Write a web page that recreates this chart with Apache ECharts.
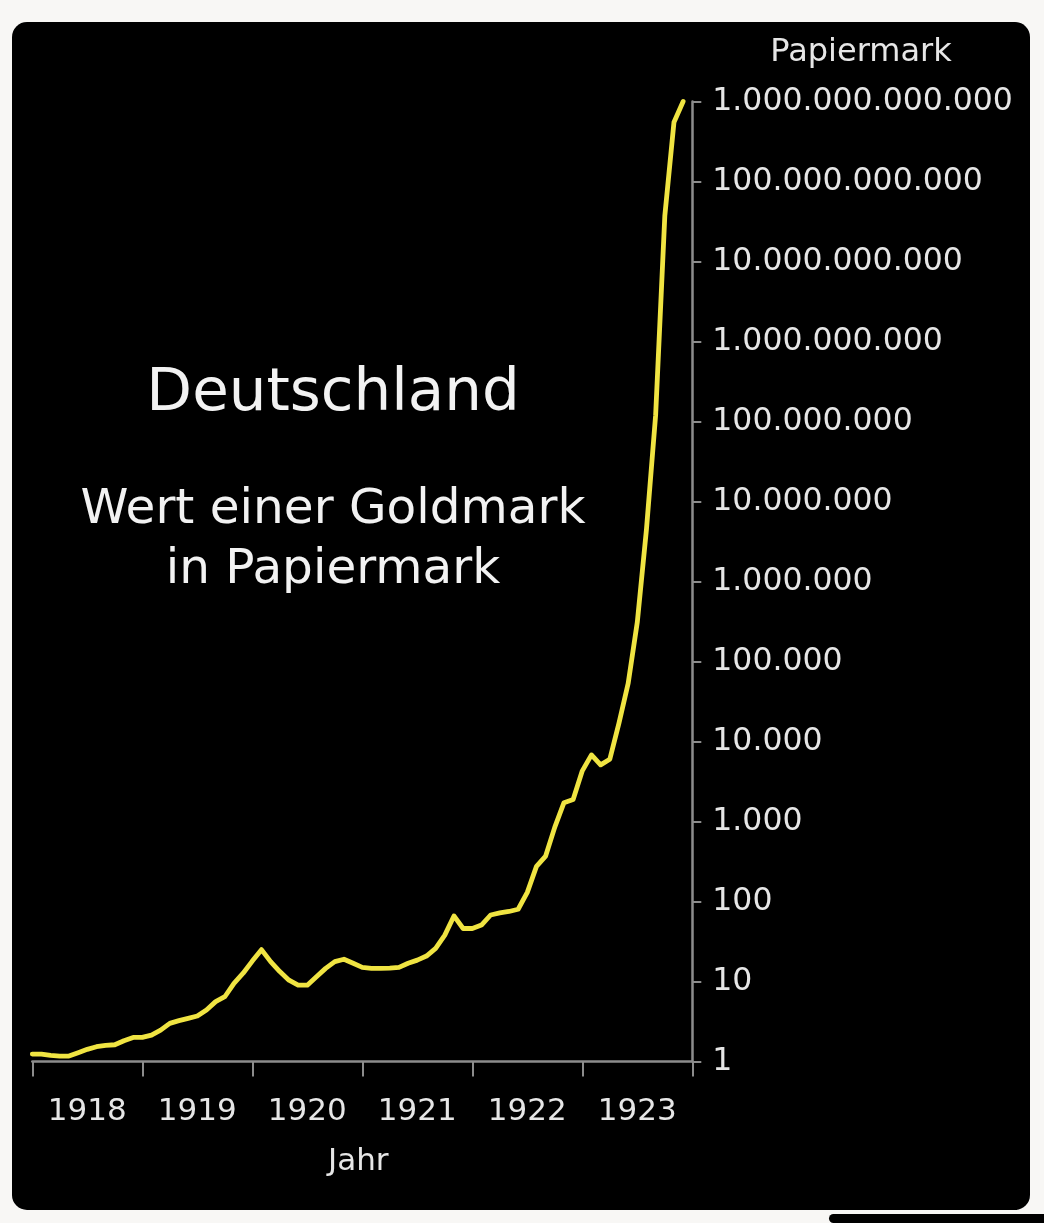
<!DOCTYPE html>
<html>
<head>
<meta charset="utf-8">
<script src="https://cdn.jsdelivr.net/npm/echarts@6/dist/echarts.min.js"></script>
<style>
  html, body { margin: 0; padding: 0; background: #f8f7f5; width: 1044px; height: 1223px; overflow: hidden; }
  #main { position: absolute; left: 12px; top: 22px; width: 1018px; height: 1188px; background: #000; border-radius: 15px; overflow: hidden; }
  #bar { position: absolute; left: 829px; top: 1214px; width: 215px; height: 9px; background: #000; border-radius: 5px 0 0 5px; }
</style>
</head>
<body>
<div id="main"></div>
<div id="bar"></div>
<script>
// Jahre auf der x-Achse
const jahre = ["1918", "1919", "1920", "1921", "1922", "1923"];

// Beschriftung der y-Achse, eine pro Zehnerpotenz
const papiermarkLabels = [
  "1", "10", "100", "1.000", "10.000", "100.000", "1.000.000",
  "10.000.000", "100.000.000", "1.000.000.000", "10.000.000.000",
  "100.000.000.000", "1.000.000.000.000"
];

// Wert einer Goldmark in Papiermark, monatlich (Jan..Dez)
const werte1918 = [1.24, 1.24, 1.19, 1.17, 1.17, 1.29, 1.42, 1.53, 1.59, 1.62, 1.82, 2.0];
const werte1919 = [2.0, 2.14, 2.47, 3.0, 3.24, 3.46, 3.7, 4.4, 5.6, 6.45, 9.5, 12.7];
const werte1920 = [18, 25, 17.7, 13.3, 10.4, 9.0, 9.0, 11.5, 14.6, 17.7, 19, 16.9];
const werte1921 = [15.0, 14.6, 14.6, 14.7, 15.0, 16.9, 18.5, 20.8, 26, 38, 66, 46];
const werte1922 = [46, 50.8, 67.8, 72, 75, 80, 130, 275, 370, 850, 1720, 1880];
const werte1923 = [4300, 6800, 5100, 6000, 17000, 53000, 310000, 4.5e6, 1.2e8, 3.7e10, 5.5e11, 1e12];

const werteProJahr = [werte1918, werte1919, werte1920, werte1921, werte1922, werte1923];

const daten = [];
werteProJahr.forEach(function (liste, j) {
  liste.forEach(function (v, m) {
    daten.push([Number(jahre[j]) + m / 12, v]);
  });
});

const schrift = "DejaVu Sans";
const grau = "#8c8c8c";
const textFarbe = "#e6e6e6";

const chart = echarts.init(document.getElementById("main"));

const option = {
  backgroundColor: "transparent",
  animation: false,
  textStyle: { fontFamily: schrift },
  grid: { left: 20.3, top: 79.5, width: 660, height: 960 },
  xAxis: [
    {
      type: "value",
      min: 1918,
      max: 1924,
      interval: 1,
      position: "bottom",
      axisLine: { show: true, lineStyle: { color: grau, width: 2.5 } },
      axisTick: { show: true, length: 15, lineStyle: { color: grau, width: 2 } },
      axisLabel: { show: false },
      splitLine: { show: false }
    },
    {
      type: "category",
      data: jahre,
      boundaryGap: true,
      position: "bottom",
      axisLine: { show: false },
      axisTick: { show: false },
      splitLine: { show: false },
      axisLabel: { color: textFarbe, fontSize: 31, fontFamily: schrift, margin: 35 },
      name: "Jahr",
      nameLocation: "middle",
      nameGap: 85,
      nameTextStyle: { color: textFarbe, fontSize: 31, fontFamily: schrift, padding: [0, 8, 0, 0] }
    }
  ],
  yAxis: [
    {
      // logarithmische Skala für die Kurve
      type: "log",
      logBase: 10,
      min: 1,
      max: 1e12,
      position: "right",
      axisLine: { show: false },
      axisTick: { show: false },
      axisLabel: { show: false },
      splitLine: { show: false },
      minorTick: { show: false }
    },
    {
      // Zehnerpotenzen als Ticks (ECharts-Logachse setzt bei 12 Dekaden nur jede 10.)
      type: "value",
      min: 0,
      max: 12,
      interval: 1,
      position: "right",
      axisLine: { show: true, lineStyle: { color: grau, width: 2.5 } },
      axisTick: { show: true, length: 9, lineStyle: { color: grau, width: 2 } },
      splitLine: { show: false },
      axisLabel: {
        color: textFarbe,
        fontSize: 31.5,
        fontFamily: schrift,
        margin: 20,
        formatter: function (v) { return papiermarkLabels[Math.round(v)]; }
      },
      name: "Papiermark",
      nameLocation: "end",
      nameGap: 33,
      nameTextStyle: {
        color: textFarbe,
        fontSize: 32,
        fontFamily: schrift,
        align: "left",
        padding: [0, 0, 0, 78]
      }
    }
  ],
  graphic: [
    {
      type: "text",
      x: 321,
      y: 373,
      style: {
        text: "Deutschland",
        fill: "#f2f2f2",
        font: "59.5px 'DejaVu Sans'",
        textAlign: "center",
        textVerticalAlign: "middle"
      }
    },
    {
      type: "text",
      x: 321,
      y: 518,
      style: {
        text: "Wert einer Goldmark\nin Papiermark",
        fill: "#f2f2f2",
        font: "48.5px 'DejaVu Sans'",
        lineHeight: 60,
        textAlign: "center",
        textVerticalAlign: "middle"
      }
    }
  ],
  series: [
    {
      type: "line",
      xAxisIndex: 0,
      yAxisIndex: 0,
      data: daten,
      showSymbol: false,
      smooth: false,
      clip: false,
      lineStyle: { color: "#f0e442", width: 4.8, join: "round", cap: "round" }
    }
  ]
};

chart.setOption(option);
</script>
</body>
</html>
